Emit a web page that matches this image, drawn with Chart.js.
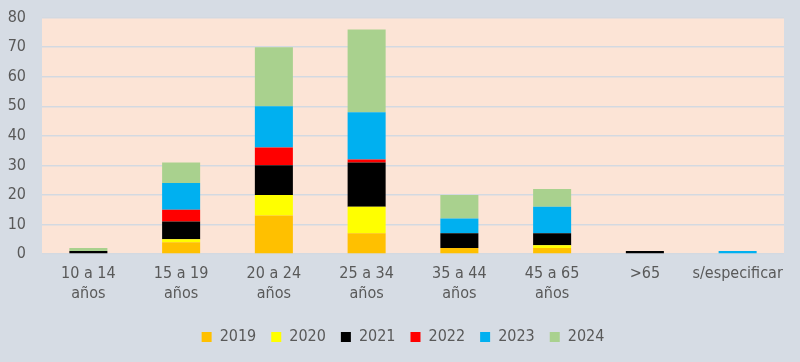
<!DOCTYPE html>
<html>
<head>
<meta charset="utf-8">
<script src="https://cdn.jsdelivr.net/npm/chart.js@4"></script>
<style>
  html, body { margin: 0; padding: 0; background: #D6DCE4; overflow: hidden; }
  #wrap { width: 800px; height: 362px; overflow: hidden; }
  /* canvas is a bit taller and pulled up so the plot top lines up with the original */
  #chart { display: block; margin-top: -8px; }
</style>
</head>
<body>
<div id="wrap"><canvas id="chart" width="800" height="370"></canvas></div>
<script>
// ==========  Data  ==========
const categories = [
  ["10 a 14", "años"],
  ["15 a 19", "años"],
  ["20 a 24", "años"],
  ["25 a 34", "años"],
  ["35 a 44", "años"],
  ["45 a 65", "años"],
  ">65",
  "s/especificar",
];
const years = ["2019", "2020", "2021", "2022", "2023", "2024"];
const values2019 = [0, 4, 13, 7, 2, 2, 0, 0];
const values2020 = [0, 1, 7, 9, 0, 1, 0, 0];
const values2021 = [1, 6, 10, 15, 5, 4, 1, 0];
const values2022 = [0, 4, 6, 1, 0, 0, 0, 0];
const values2023 = [0, 9, 14, 16, 5, 9, 0, 1];
const values2024 = [1, 7, 20, 28, 8, 6, 0, 0];
const yTicks = [0, 10, 20, 30, 40, 50, 60, 70, 80];

const colors = ["#FFC000", "#FFFF00", "#000000", "#FF0000", "#00B0F0", "#A9D18E"];
const series = [values2019, values2020, values2021, values2022, values2023, values2024];

const FONT = "'Liberation Sans Narrow', 'DejaVu Sans Condensed', sans-serif";
const TEXT = "#595959";

// page + plot area backgrounds
const backgrounds = {
  id: "backgrounds",
  beforeDraw(chart) {
    const { ctx, chartArea: a } = chart;
    ctx.save();
    ctx.fillStyle = "#D6DCE4";
    ctx.fillRect(0, 0, chart.width, chart.height);
    ctx.fillStyle = "#FCE4D6";
    ctx.fillRect(a.left, a.top, a.right - a.left, a.bottom - a.top);
    ctx.restore();
  },
  // nudge the legend so it sits centred like the original
  afterLayout(chart) {
    chart.legend.left += 11;
    chart.legend.right += 11;
  },
};

new Chart(document.getElementById("chart"), {
  type: "bar",
  data: {
    labels: categories,
    datasets: years.map((y, i) => ({
      label: y,
      data: series[i],
      backgroundColor: colors[i],
      borderWidth: 0,
      barPercentage: 0.41,
      categoryPercentage: 1,
    })),
  },
  options: {
    responsive: false,
    animation: false,
    layout: { padding: { left: 0, right: 16, top: 2, bottom: 7 } },
    plugins: {
      legend: {
        position: "bottom",
        labels: {
          boxWidth: 10,
          boxHeight: 10,
          padding: 15,
          color: TEXT,
          font: { family: FONT, size: 16 },
        },
      },
      tooltip: { enabled: false },
    },
    scales: {
      x: {
        stacked: true,
        grid: { display: false },
        border: { display: false },
        ticks: {
          color: TEXT,
          padding: 2,
          maxRotation: 0,
          autoSkip: false,
          font: { family: FONT, size: 16, lineHeight: 1.25 },
        },
        afterFit(scale) { scale.height = 60; },
      },
      y: {
        stacked: true,
        min: 0,
        max: 80,
        afterBuildTicks(scale) { scale.ticks = yTicks.map(v => ({ value: v })); },
        grid: { color: "#D3D9E1", lineWidth: 1.5, drawTicks: false },
        border: { display: false },
        ticks: {
          color: TEXT,
          padding: 16,
          font: { family: FONT, size: 16 },
        },
        afterFit(scale) { scale.width = 42; },
      },
    },
  },
  plugins: [backgrounds],
});
</script>
</body>
</html>
